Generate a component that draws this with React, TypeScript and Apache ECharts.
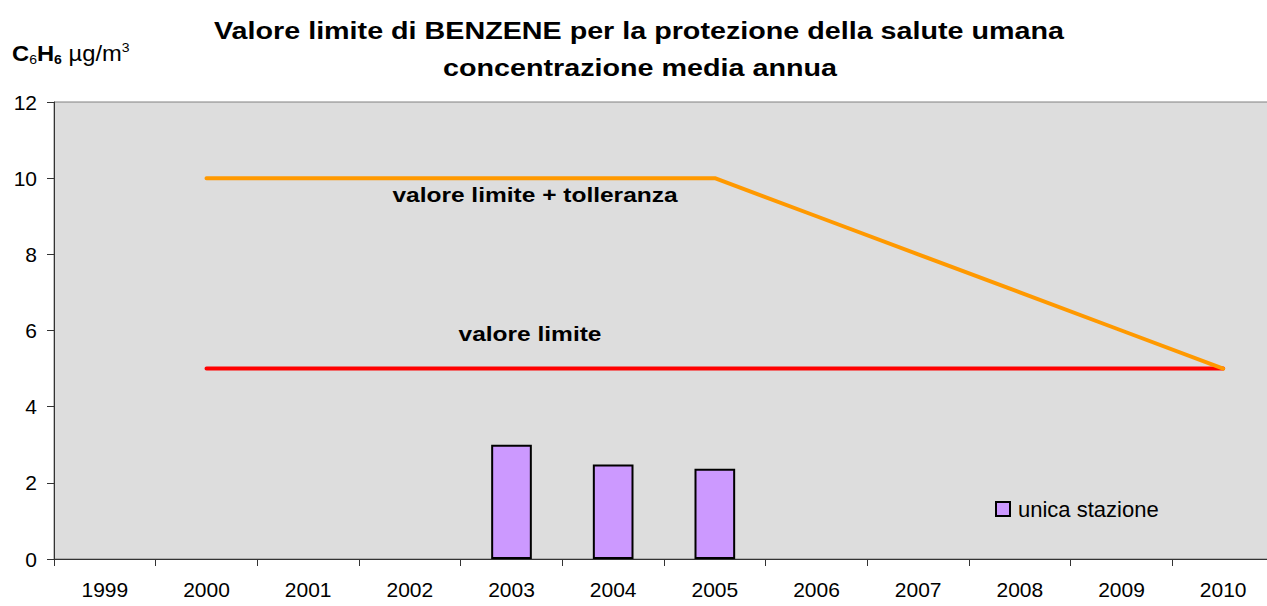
import React, { useEffect, useRef } from "react";
import * as echarts from "echarts";

const years = ["1999", "2000", "2001", "2002", "2003", "2004", "2005", "2006", "2007", "2008", "2009", "2010"];
const stationValues: (number | null)[] = [null, null, null, null, 3.0, 2.48, 2.37, null, null, null, null, null];
const limitPlusTolerance: (number | null)[] = [null, 10, 10, 10, 10, 10, 10, 9, 8, 7, 6, 5];
const limitValue: (number | null)[] = [null, 5, 5, 5, 5, 5, 5, 5, 5, 5, 5, 5];
const titleLines = [
  "Valore limite di BENZENE per la protezione della salute umana",
  "concentrazione media annua",
];
const seriesNames = ["unica stazione", "valore limite + tolleranza", "valore limite"];

const FONT = "'Liberation Sans', Arial, Helvetica, sans-serif";

export default function App() {
  const ref = useRef<HTMLDivElement>(null);
  useEffect(() => {
    if (!ref.current) return;
    const chart = echarts.init(ref.current, null, { renderer: "svg" });
    chart.setOption({
      animation: false,
      backgroundColor: "#ffffff",
      textStyle: { fontFamily: FONT },
      grid: {
        left: 54,
        width: 1220,
        top: 102,
        height: 457,
        outerBoundsMode: "none",
        containLabel: false,
        show: true,
        backgroundColor: "#DDDDDD",
        borderColor: "#808080",
        borderWidth: 1,
      },
      legend: {
        data: [seriesNames[0]],
        left: 995,
        top: 498,
        padding: 0,
        itemWidth: 14,
        itemHeight: 14,
        icon: "rect",
        textStyle: { fontFamily: FONT, fontSize: 22, color: "#000", padding: [0, 0, 0, 3] },
      },
      xAxis: {
        type: "category",
        data: years,
        boundaryGap: true,
        axisLine: { lineStyle: { color: "#333", width: 1 } },
        axisTick: { show: true, length: 7, lineStyle: { color: "#333" } },
        axisLabel: { color: "#000", fontSize: 21, fontFamily: FONT, margin: 20 },
        splitLine: { show: false },
      },
      yAxis: {
        type: "value",
        min: 0,
        max: 12,
        interval: 2,
        axisLine: { show: true, lineStyle: { color: "#333", width: 1 } },
        axisTick: { show: true, length: 7, lineStyle: { color: "#333" } },
        axisLabel: { color: "#000", fontSize: 21, fontFamily: FONT, margin: 17 },
        splitLine: { show: false },
      },
      series: [
        {
          name: seriesNames[0],
          type: "bar",
          data: stationValues,
          barWidth: "40%",
          itemStyle: { color: "#CC99FF", borderColor: "#000", borderWidth: 2 },
          z: 2,
        },
        {
          name: seriesNames[1],
          type: "line",
          data: limitPlusTolerance,
          showSymbol: false,
          symbol: "none",
          lineStyle: { color: "#FF9900", width: 4, cap: "round" },
          itemStyle: { color: "#FF9900" },
          z: 4,
        },
        {
          name: seriesNames[2],
          type: "line",
          data: limitValue,
          showSymbol: false,
          symbol: "none",
          lineStyle: { color: "#FF0000", width: 4, cap: "round" },
          itemStyle: { color: "#FF0000" },
          z: 3,
        },
      ],
      graphic: [
        {
          type: "text",
          x: 639,
          y: 31,
          scaleX: 1.248,
          style: {
            text: titleLines[0],
            font: `bold 23px ${FONT}`,
            fill: "#000",
            textAlign: "center",
            textVerticalAlign: "middle",
          },
        },
        {
          type: "text",
          x: 640,
          y: 68,
          scaleX: 1.248,
          style: {
            text: titleLines[1],
            font: `bold 23px ${FONT}`,
            fill: "#000",
            textAlign: "center",
            textVerticalAlign: "middle",
          },
        },
        {
          type: "text",
          x: 535,
          y: 195,
          scaleX: 1.225,
          z: 10,
          style: {
            text: seriesNames[1],
            font: `bold 20px ${FONT}`,
            fill: "#000",
            textAlign: "center",
            textVerticalAlign: "middle",
          },
        },
        {
          type: "text",
          x: 530,
          y: 334,
          scaleX: 1.225,
          z: 10,
          style: {
            text: seriesNames[2],
            font: `bold 20px ${FONT}`,
            fill: "#000",
            textAlign: "center",
            textVerticalAlign: "middle",
          },
        },
        {
          type: "text",
          x: 12,
          y: 41,
          scaleX: 1.08,
          style: {
            text: "{b|C}{s|6}{b|H}{sb|6}{n| µg/m}{sup|3}",
            fill: "#000",
            textAlign: "left",
            textVerticalAlign: "top",
            rich: {
              b: { fontFamily: FONT, fontSize: 22, fontWeight: "bold", lineHeight: 25, verticalAlign: "middle", fill: "#000" },
              n: { fontFamily: FONT, fontSize: 22, lineHeight: 25, verticalAlign: "middle", fill: "#000" },
              s: { fontFamily: FONT, fontSize: 13, lineHeight: 14, verticalAlign: "bottom", fill: "#000" },
              sb: { fontFamily: FONT, fontSize: 13, fontWeight: "bold", lineHeight: 14, verticalAlign: "bottom", fill: "#000" },
              sup: { fontFamily: FONT, fontSize: 13, lineHeight: 14, verticalAlign: "top", fill: "#000" },
            },
          },
        },
      ],
    });
    return () => chart.dispose();
  }, []);
  return (
    <div
      ref={ref}
      style={{ position: "fixed", left: 0, top: 0, width: 1267, height: 606, background: "#fff" }}
    />
  );
}
